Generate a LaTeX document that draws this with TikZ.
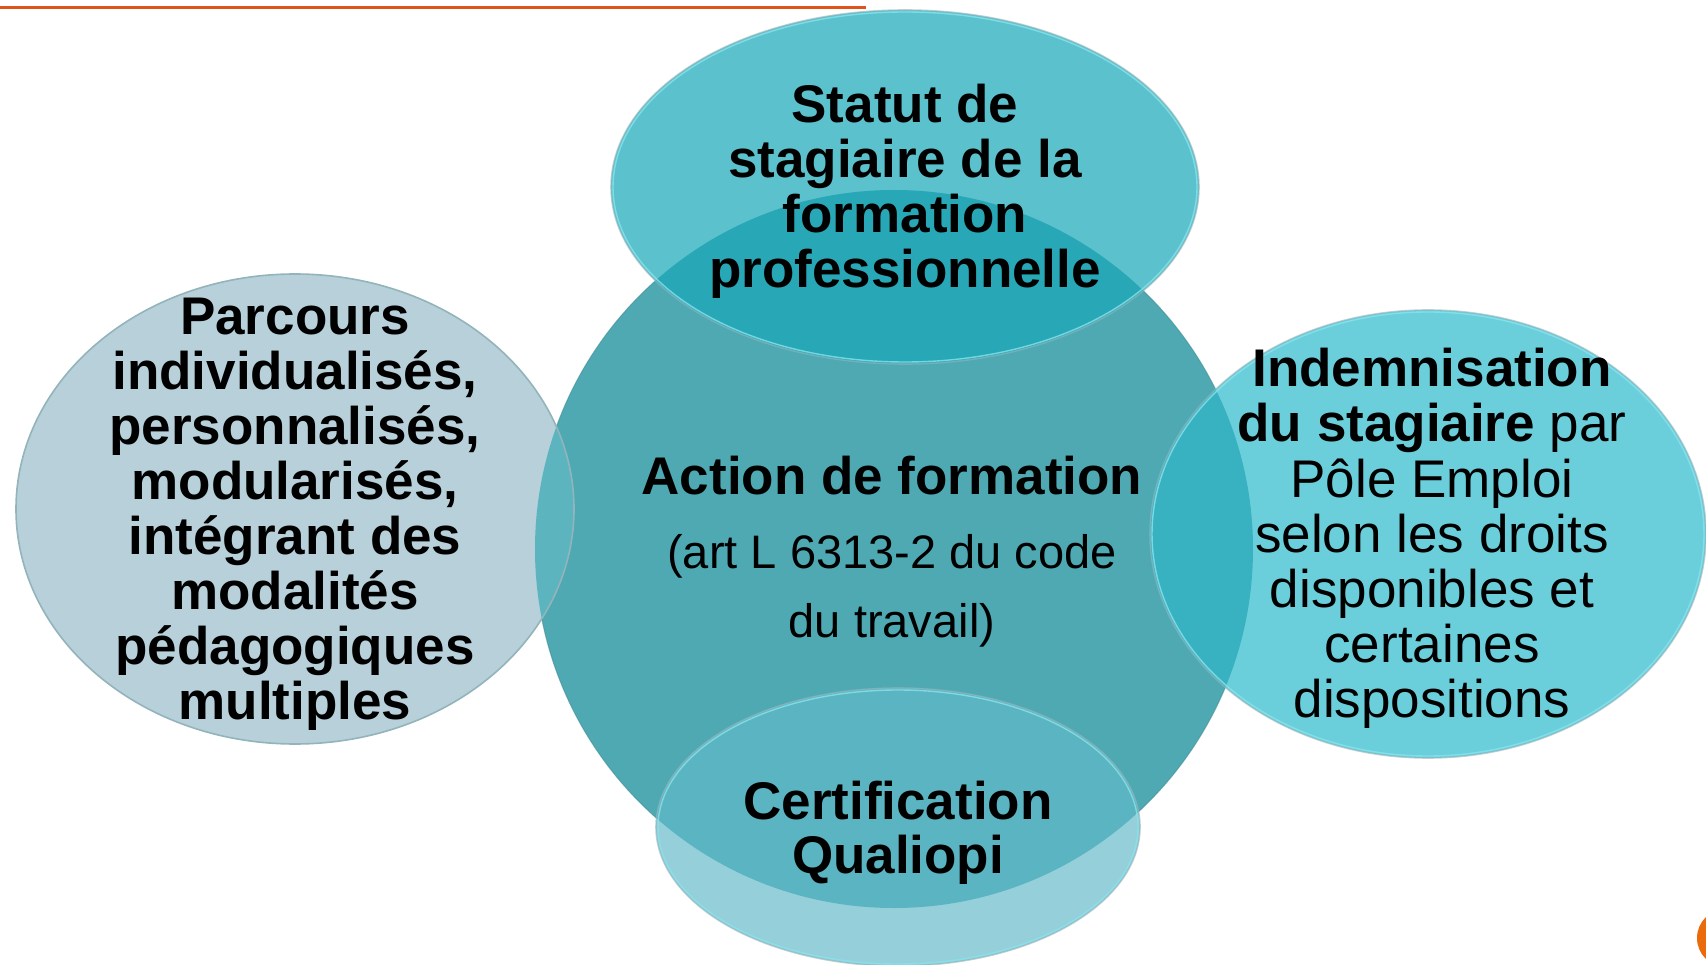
\documentclass[tikz,border=0pt]{standalone}
\usepackage{fontspec}
\setmainfont{Liberation Sans}
\definecolor{cCenter}{HTML}{4EA9B3}
\definecolor{cTop}{HTML}{5BC1CC}
\definecolor{cTopOv}{HTML}{28A7B6}
\definecolor{cLeft}{HTML}{B7D0DA}
\definecolor{cLeftOv}{HTML}{5CB4BF}
\definecolor{cRight}{HTML}{6BCFDB}
\definecolor{cRightOv}{HTML}{38B1C1}
\definecolor{cBot}{HTML}{94CFDA}
\definecolor{cBotOv}{HTML}{5AB4C1}
\definecolor{cLine}{HTML}{E0541A}
\definecolor{cDot}{HTML}{EA6A0C}
\definecolor{cRimOut}{HTML}{92B4BA}
\definecolor{cRimIn}{HTML}{86E4EE}
\newcommand\shCenter{(894,549) circle[radius=359pt]}
\newcommand\shTop{(905,187) ellipse[x radius=294pt, y radius=177pt]}
\newcommand\shLeft{(295,509) ellipse[x radius=279pt, y radius=235pt]}
\newcommand\shRight{(1428,534) ellipse[x radius=278pt, y radius=224pt]}
\newcommand\shBot{(898,827) ellipse[x radius=242pt, y radius=139pt]}
\begin{document}
\begin{tikzpicture}[x=1pt,y=-1pt,
  bt/.style={font=\fontsize{53}{55}\selectfont\bfseries, inner sep=0pt, anchor=base},
  rt/.style={font=\fontsize{53}{55}\selectfont, inner sep=0pt, anchor=base},
  st/.style={font=\fontsize{47}{50}\selectfont, inner sep=0pt, anchor=base},
  rimout/.style={draw=cRimOut, line width=1.6pt},
  rimin/.style={draw=cRimIn, line width=1.4pt, draw opacity=0.8},
  orangeline/.style={draw=cLine, line width=3pt}]
\useasboundingbox (0,0) rectangle (1706,965);
\fill[white] (0,0) rectangle (1706,965);
% top rule
\coordinate (r0) at (0,8);
\coordinate (r1) at (866,8);
\draw[orangeline] (r0) -- (r1);
% central circle
\fill[cCenter] \shCenter;
\draw[draw=cCenter!80!black, line width=1pt, draw opacity=0.5] \shCenter;
% left ellipse
\fill[cLeft] \shLeft;
\begin{scope}\clip \shCenter; \fill[cLeftOv] \shLeft; \end{scope}
\draw[rimout] \shLeft;
% top ellipse
\fill[cTop] \shTop;
\begin{scope}\clip \shCenter; \fill[cTopOv] \shTop; \end{scope}
\draw[rimout, draw opacity=0.6] \shTop;
\draw[rimin] (905,187) ellipse[x radius=292pt, y radius=175pt];
% right ellipse
\fill[cRight] \shRight;
\begin{scope}\clip \shCenter; \fill[cRightOv] \shRight; \end{scope}
\draw[rimout, draw opacity=0.6] \shRight;
\draw[rimin] (1428,534) ellipse[x radius=276pt, y radius=222pt];
% bottom ellipse
\fill[cBot] \shBot;
\begin{scope}\clip \shCenter; \fill[cBotOv] \shBot; \end{scope}
\draw[rimout, draw opacity=0.6] \shBot;
\draw[rimin] (898,827) ellipse[x radius=240pt, y radius=137pt];
% orange dot
\fill[cDot] (1726,938) circle[radius=29pt];
% texts: top
\foreach \t [count=\i] in {Statut de, stagiaire de la, formation, professionnelle}
  \node[bt] (T\i) at (905, {123+55*(\i-1)}) {\t};
% left
\foreach \t [count=\i] in {Parcours, {individualisés,}, {personnalisés,}, {modularisés,}, intégrant des, modalités, pédagogiques, multiples}
  \node[bt] (L\i) at (295, {334.5+55*(\i-1)}) {\t};
% right
\node[bt] (R1) at (1432,387) {Indemnisation};
\node[rt] (R2) at (1432,442) {\textbf{du stagiaire} par};
\foreach \t [count=\i from 3] in {Pôle Emploi, selon les droits, disponibles et, certaines, dispositions}
  \node[rt] (R\i) at (1432, {387+55*(\i-1)}) {\t};
% centre
\node[bt] (C1) at (892,494) {Action de formation};
\node[st] (C2) at (892,568) {(art L 6313-2 du code};
\node[st] (C3) at (892,637) {du travail)};
% bottom
\node[bt] (B1) at (898,819) {Certification};
\node[bt] (B2) at (898,873) {Qualiopi};
\end{tikzpicture}
\end{document}
